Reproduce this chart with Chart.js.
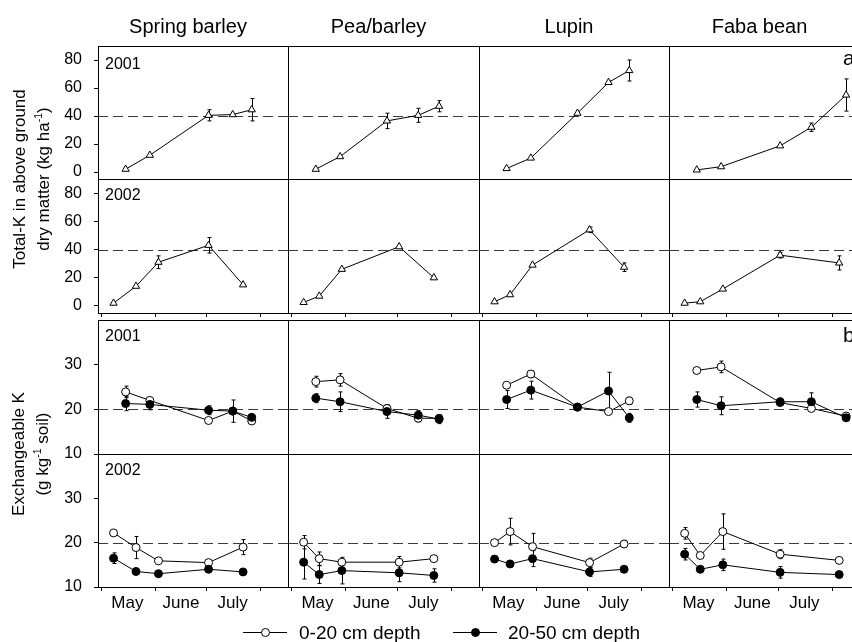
<!DOCTYPE html>
<html>
<head>
<meta charset="utf-8">
<script src="https://cdn.jsdelivr.net/npm/chart.js@4"></script>
<style>
  html, body { margin: 0; padding: 0; background: #fff; overflow: hidden; width: 852px; height: 642px; }
  #fig { position: relative; width: 852px; height: 642px; font-family: "Liberation Sans", Arial, sans-serif; color: #000; }
  #fig canvas { position: absolute; }
  .txt { position: absolute; white-space: nowrap; line-height: 1; }
  .ytitle { position: absolute; white-space: nowrap; text-align: center; font-size: 17px; line-height: 24px;
            transform: translate(-50%, -50%) rotate(-90deg); }
  .ytitle sup { font-size: 0.62em; line-height: 0; }
  .legend { position: absolute; top: 622px; height: 22px; font-size: 19px; line-height: 22px; white-space: nowrap; }
  .sym { position: absolute; top: 0; width: 44px; height: 22px; }
  .sym::before { content: ""; position: absolute; left: 0; right: 0; top: 10px; border-top: 1px solid #000; }
  .sym::after { content: ""; position: absolute; left: 18px; top: 6px; width: 7px; height: 7px; border: 1px solid #000; border-radius: 50%; }
  .sym.open::after { background: #fff; }
  .sym.filled::after { background: #000; }
</style>
</head>
<body>
<div id="fig"></div>
<script>
// ---- data -------------------------------------------------------------
const crops = ['Spring barley', 'Pea/barley', 'Lupin', 'Faba bean'];
const years = ['2001', '2002'];

// sampling dates, day of year, one list per crop
const days2001 = [[135, 149, 183, 197, 208], [135, 149, 176, 194, 206], [135, 149, 176, 194, 206], [135, 149, 183, 201, 221]];
const days2002 = [[128, 141, 154, 183, 203], [128, 137, 150, 183, 203], [128, 137, 150, 183, 203], [128, 137, 150, 183, 217]];

// total K in above-ground dry matter (kg/ha) and standard errors
const totalK2001 = [[2, 12, 40.5, 41, 44.5], [2, 11, 36.5, 40.5, 47], [2.5, 10, 42, 64, 72.5], [1.5, 3.8, 18.7, 32, 55]];
const totalK2001Err = [[0, 0, 4, 0.5, 8], [0, 0, 5.5, 5, 4], [0, 0, 0.5, 1, 7.5], [0, 0, 0, 3, 11.5]];
const totalK2002 = [[2, 14, 31, 43, 15], [2.5, 7, 26, 42, 20], [3, 8, 29, 54, 27.5], [2, 3, 12, 36, 30.5]];
const totalK2002Err = [[0, 0, 4.5, 5.5, 0], [0, 0, 0, 0, 0], [0, 0, 0, 2, 3], [0, 0, 0, 2, 5]];

// exchangeable K (g/kg soil), 0-20 cm and 20-50 cm depth
const topsoil2001 = [[23.9, 22.0, 17.5, 19.6, 17.4], [26.2, 26.6, 20.2, 18.0, 18.0], [25.4, 27.9, 20.5, 19.5, 21.9], [28.7, 29.5, 21.5, 20.2, 18.5]];
const topsoil2001Err = [[1.3, 0.5, 0, 0, 0], [1.2, 1.4, 0.8, 0.8, 0.8], [0, 0.8, 0, 0, 0.8], [0, 1.3, 0, 0.5, 0]];
const subsoil2001 = [[21.3, 21.1, 19.8, 19.6, 18.2], [22.5, 21.7, 19.5, 18.7, 17.8], [22.2, 24.3, 20.5, 24.1, 18.1], [22.2, 20.8, 21.7, 21.7, 18.1]];
const subsoil2001Err = [[1.6, 1.2, 1.0, 2.5, 0.5], [1.0, 2.2, 1.5, 1.0, 1.0], [2.0, 2.0, 0, 4.2, 1.0], [1.7, 2.0, 0.8, 2.0, 0.5]];
const topsoil2002 = [[22.2, 18.9, 15.9, 15.5, 19.0], [20.1, 16.4, 15.6, 15.6, 16.4], [20.0, 22.5, 19.1, 15.5, 19.7], [22.1, 17.1, 22.5, 17.4, 16.0]];
const topsoil2002Err = [[0, 2.5, 0, 0, 1.7], [1.5, 1.5, 0.6, 1.3, 0], [0, 3.0, 3.0, 1.0, 0.8], [1.3, 0, 4.0, 1.0, 0.5]];
const subsoil2002 = [[16.5, 13.5, 13.0, 14.0, 13.4], [15.6, 12.8, 13.7, 13.2, 12.6], [16.3, 15.2, 16.4, 13.4, 14.0], [17.4, 14.0, 15.0, 13.3, 12.8]];
const subsoil2002Err = [[1.2, 0, 0, 0, 0], [3.8, 2.0, 3.0, 2.0, 1.5], [0, 0, 1.8, 1.0, 0], [1.3, 0, 1.3, 1.3, 0]];

// axes
const dayRange = [119, 229];
const monthStarts = [121, 152, 182, 213];        // 1 May, 1 June, 1 July, 1 August
const monthMiddles = [136, 167, 197];
const monthNames = ['May', 'June', 'July'];
const totalKRange = [-5, 90];
const totalKTicks = [0, 20, 40, 60, 80];
const totalKRef = 40;
const exchKRange = [10, 40];
const exchKTicks = [10, 20, 30];
const exchKRef = 20;

// ---- layout -----------------------------------------------------------
const colLeft = [98, 288, 479, 669];
const colWidth = [190, 191, 190, 191];
const rowTop = [46, 179, 320, 454];
const rowHeight = [133, 134, 134, 133];
const M = { l: 60, t: 26, r: 6, b: 30 };
const FONT = '"Liberation Sans", Arial, sans-serif';
const fig = document.getElementById('fig');

// frame, dashed reference line and error bars
const panelPlugin = {
  id: 'panelDecor',
  beforeDatasetsDraw(chart) {
    const { ctx, chartArea: a, scales: { y } } = chart;
    const ref = chart.options.plugins.panelDecor.ref;
    const py = Math.round(y.getPixelForValue(ref)) + 0.5;
    ctx.save();
    ctx.strokeStyle = '#3a3a3a';
    ctx.lineWidth = 1;
    ctx.setLineDash([10, 5]);
    ctx.beginPath();
    ctx.moveTo(a.left, py);
    ctx.lineTo(a.right, py);
    ctx.stroke();
    ctx.setLineDash([]);
    ctx.strokeStyle = '#000';
    chart.data.datasets.forEach((ds, di) => {
      const meta = chart.getDatasetMeta(di);
      ds.errorBars.forEach((e, i) => {
        if (!e) return;
        const x = Math.round(meta.data[i].x) + 0.5;
        const v = ds.data[i].y;
        const t = y.getPixelForValue(v + e), b = y.getPixelForValue(v - e);
        ctx.beginPath();
        ctx.moveTo(x, t); ctx.lineTo(x, b);
        ctx.moveTo(x - 2, t); ctx.lineTo(x + 2, t);
        ctx.moveTo(x - 2, b); ctx.lineTo(x + 2, b);
        ctx.stroke();
      });
    });
    ctx.restore();
  },
  afterDraw(chart) {
    const { ctx, chartArea: a } = chart;
    ctx.save();
    ctx.strokeStyle = '#000';
    ctx.lineWidth = 1;
    ctx.strokeRect(Math.round(a.left) + 0.5, Math.round(a.top) + 0.5, Math.round(a.right - a.left), Math.round(a.bottom - a.top));
    ctx.restore();
  }
};

function series(label, days, vals, errs, style, fill, order) {
  return {
    label,
    data: days.map((d, i) => ({ x: d, y: vals[i] })),
    errorBars: errs,
    showLine: true,
    borderColor: '#000',
    borderWidth: 1,
    pointStyle: style,
    pointRadius: style === 'triangle' ? 4.2 : 4,
    pointBackgroundColor: fill,
    pointBorderColor: '#000',
    pointBorderWidth: 1,
    backgroundColor: fill,
    tension: 0,
    order
  };
}

function buildPanel(row, col) {
  const isTotal = row < 2;
  const first = row % 2 === 0;
  const days = (first ? days2001 : days2002)[col];
  let datasets;
  if (isTotal) {
    datasets = [series('Total K', days, (first ? totalK2001 : totalK2002)[col], (first ? totalK2001Err : totalK2002Err)[col], 'triangle', '#fff', 0)];
  } else {
    datasets = [
      series('0-20 cm depth', days, (first ? topsoil2001 : topsoil2002)[col], (first ? topsoil2001Err : topsoil2002Err)[col], 'circle', '#fff', 1),
      series('20-50 cm depth', days, (first ? subsoil2001 : subsoil2002)[col], (first ? subsoil2001Err : subsoil2002Err)[col], 'circle', '#000', 0)
    ];
  }
  const yRange = isTotal ? totalKRange : exchKRange;
  const yTicks = isTotal ? totalKTicks : exchKTicks;
  const xTickMarks = row === 1 || row === 3;
  const xLabels = row === 3;
  const yLabels = col === 0;

  const cv = document.createElement('canvas');
  const w = colWidth[col] + M.l + M.r, h = rowHeight[row] + M.t + M.b;
  cv.width = w; cv.height = h;
  cv.style.left = (colLeft[col] - M.l) + 'px';
  cv.style.top = (rowTop[row] - M.t) + 'px';
  cv.style.width = w + 'px'; cv.style.height = h + 'px';
  fig.appendChild(cv);

  new Chart(cv, {
    type: 'scatter',
    data: { datasets },
    plugins: [panelPlugin],
    options: {
      responsive: false,
      animation: false,
      devicePixelRatio: 1,
      layout: { padding: { top: M.t, right: M.r, left: 0, bottom: 0 } },
      plugins: { legend: { display: false }, tooltip: { enabled: false }, panelDecor: { ref: isTotal ? totalKRef : exchKRef } },
      scales: {
        x: {
          type: 'linear', position: 'bottom',
          min: dayRange[0], max: dayRange[1],
          afterBuildTicks: s => { s.ticks = monthStarts.concat(monthMiddles).sort((a, b) => a - b).map(v => ({ value: v })); },
          afterFit: s => { s.height = M.b; },
          border: { display: false },
          grid: {
            display: xTickMarks, drawOnChartArea: false, drawTicks: true, tickLength: 4, tickWidth: 1,
            tickColor: c => (c.tick && monthStarts.includes(c.tick.value)) ? '#000' : 'rgba(0,0,0,0)'
          },
          ticks: {
            display: xLabels, autoSkip: false, maxRotation: 0, padding: 2, color: '#000',
            font: { family: FONT, size: 17 },
            callback: v => { const k = monthMiddles.indexOf(v); return k >= 0 ? monthNames[k] : ''; }
          }
        },
        y: {
          type: 'linear', position: 'left',
          min: yRange[0], max: yRange[1],
          afterBuildTicks: s => { s.ticks = yTicks.map(v => ({ value: v })); },
          afterFit: s => { s.width = M.l; },
          border: { display: false },
          grid: { display: yLabels, drawOnChartArea: false, drawTicks: true, tickLength: 4, tickWidth: 1, tickColor: '#000' },
          ticks: { display: yLabels, padding: 12, color: '#000', font: { family: FONT, size: 16 } }
        }
      }
    }
  });
}

for (let r = 0; r < 4; r++) for (let c = 0; c < 4; c++) buildPanel(r, c);

// ---- text ---------------------------------------------------------------
function addText(str, x, baseline, size, align) {
  const d = document.createElement('div');
  d.className = 'txt';
  d.textContent = str;
  d.style.fontSize = size + 'px';
  d.style.top = (baseline - 0.8465 * size) + 'px';
  if (align === 'center') { d.style.left = x + 'px'; d.style.transform = 'translateX(-50%)'; }
  else d.style.left = x + 'px';
  fig.appendChild(d);
}

crops.forEach((name, c) => addText(name, colLeft[c] + colWidth[c] / 2 - 5, 33, 20, 'center'));
const yearBaselines = [70, 201, 342, 476];
yearBaselines.forEach((b, r) => addText(years[r % 2], 105, b, 16, 'left'));
addText('a', 843, 65, 21, 'left');
addText('b', 843, 342, 21, 'left');

function addYTitle(html, cx, cy) {
  const d = document.createElement('div');
  d.className = 'ytitle';
  d.innerHTML = html;
  d.style.left = cx + 'px';
  d.style.top = cy + 'px';
  fig.appendChild(d);
}
addYTitle('Total-K in above ground<br>dry matter (kg ha<sup>-1</sup>)', 32, 179);
addYTitle('Exchangeable K<br>(g kg<sup>-1</sup> soil)', 31, 454);

function addLegend(label, cls, symLeft, textLeft) {
  const s = document.createElement('div');
  s.className = 'legend';
  s.style.left = symLeft + 'px';
  s.innerHTML = '<span class="sym ' + cls + '"></span><span style="position:absolute;left:' + (textLeft - symLeft) + 'px;top:0">' + label + '</span>';
  fig.appendChild(s);
}
addLegend('0-20 cm depth', 'open', 243, 299);
addLegend('20-50 cm depth', 'filled', 453, 508);
</script>
</body>
</html>
